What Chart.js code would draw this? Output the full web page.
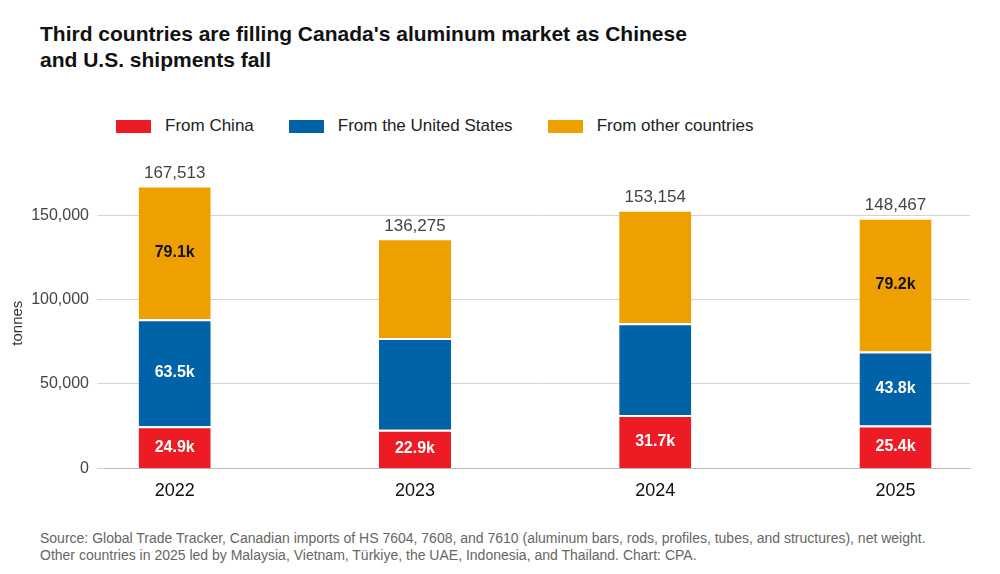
<!DOCTYPE html>
<html>
<head>
<meta charset="utf-8">
<script src="https://cdn.jsdelivr.net/npm/chart.js@4"></script>
<style>
  html, body { margin: 0; padding: 0; background: #fff; }
  body { font-family: 'Liberation Sans', Arial, sans-serif; }
  #wrap { width: 1000px; height: 574px; position: relative; overflow: hidden; }
  #title { position: absolute; left: 40px; top: 21px; font-size: 21px; font-weight: bold; color: #111; line-height: 26px; }
  #legend { position: absolute; left: 116px; top: 116px; font-size: 17px; color: #222; display: flex; }
  #legend span.item { display: flex; align-items: center; margin-right: 35px; }
  #legend i { display: inline-block; width: 35px; height: 13px; margin-right: 14px; }
  #source { position: absolute; left: 40px; top: 530px; font-size: 14px; color: #666; line-height: 17px; }
  #cbox { position: absolute; left: 0; top: 140px; width: 1000px; height: 370px; }
</style>
</head>
<body>
<div id="wrap">
  <div id="title">Third countries are filling Canada's aluminum market as Chinese<br>and U.S. shipments fall</div>
  <div id="legend">
    <span class="item"><i style="background:#ED1C24"></i>From China</span>
    <span class="item"><i style="background:#0063A8"></i>From the United States</span>
    <span class="item"><i style="background:#EEA000"></i>From other countries</span>
  </div>
  <div id="cbox"><canvas id="chart"></canvas></div>
  <div id="source">Source: Global Trade Tracker, Canadian imports of HS 7604, 7608, and 7610 (aluminum bars, rods, profiles, tubes, and structures), net weight.<br>Other countries in 2025 led by Malaysia, Vietnam, Türkiye, the UAE, Indonesia, and Thailand. Chart: CPA.</div>
</div>
<script>
const years = ["2022", "2023", "2024", "2025"];
const fromChina = [24900, 22900, 31700, 25400];
const fromUS = [63500, 54400, 54300, 43800];
const fromOther = [79113, 58975, 67154, 79267];
const totals = [167513, 136275, 153154, 148467];
// which segment labels are printed
const chinaLabels = ["24.9k", "22.9k", "31.7k", "25.4k"];
const usLabels = ["63.5k", "", "", "43.8k"];
const otherLabels = ["79.1k", "", "", "79.2k"];

const font = "'Liberation Sans', Arial, sans-serif";

const barText = {
  id: "barText",
  afterDatasetsDraw(chart) {
    const ctx = chart.ctx;
    const lists = [chinaLabels, usLabels, otherLabels];
    const colors = ["#fff", "#fff", "#111"];
    ctx.save();
    ctx.textAlign = "center";
    ctx.textBaseline = "middle";
    lists.forEach((labels, di) => {
      chart.getDatasetMeta(di).data.forEach((bar, i) => {
        if (!labels[i]) return;
        ctx.font = "bold 16px " + font;
        ctx.fillStyle = colors[di];
        ctx.fillText(labels[i], bar.x, (bar.y + bar.base) / 2);
      });
    });
    const y = chart.scales.y;
    ctx.font = "17px " + font;
    ctx.fillStyle = "#444";
    ctx.textBaseline = "bottom";
    chart.getDatasetMeta(2).data.forEach((bar, i) => {
      ctx.fillText(totals[i].toLocaleString("en-US"), bar.x, y.getPixelForValue(totals[i]) - 4);
    });
    ctx.restore();
  }
};

const seg = (label, data, color) => ({
  label, data: data.map((v, i) => ({ x: i, y: v })), backgroundColor: color,
  borderColor: "#fff", borderWidth: { top: 2 }, borderSkipped: "bottom",
  barPercentage: 0.3, categoryPercentage: 1
});

new Chart(document.getElementById("chart"), {
  type: "bar",
  data: {
    datasets: [
      seg("From China", fromChina, "#ED1C24"),
      seg("From the United States", fromUS, "#0063A8"),
      seg("From other countries", fromOther, "#EEA000")
    ]
  },
  options: {
    responsive: true,
    maintainAspectRatio: false,
    animation: false,
    layout: { padding: { left: 5, right: 30, top: 38, bottom: 4 } },
    plugins: { legend: { display: false }, tooltip: { enabled: false } },
    scales: {
      x: {
        type: "linear",
        stacked: true,
        min: -0.29, max: 3.31,
        offset: false,
        afterBuildTicks: (s) => { s.ticks = [0, 1, 2, 3].map(v => ({ value: v })); },
        grid: { display: false },
        border: { color: "#bbb" },
        ticks: { color: "#111", font: { family: font, size: 18 }, padding: 4,
          callback: (v) => years[v] }
      },
      y: {
        stacked: true,
        min: 0, max: 172000,
        afterBuildTicks: (s) => { s.ticks = [0, 50000, 100000, 150000].map(v => ({ value: v })); },
        afterFit: (s) => { s.width = 100; },
        grid: { color: "#d4d4d4" },
        border: { display: false },
        ticks: { color: "#444", font: { family: font, size: 16 }, padding: 8,
          callback: (v) => v.toLocaleString("en-US") },
        title: { display: true, text: "tonnes", color: "#333", font: { family: font, size: 15 } }
      }
    }
  },
  plugins: [barText]
});
</script>
</body>
</html>
